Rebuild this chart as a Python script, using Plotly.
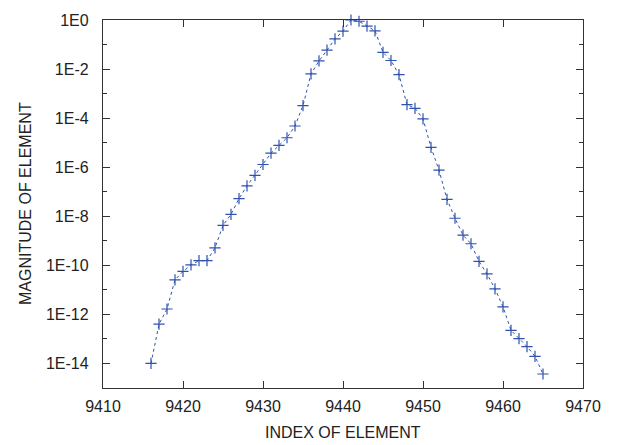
import plotly.graph_objects as go

index = list(range(9416, 9466))
log_mag = [
    -14.0, -12.4, -11.78, -10.59, -10.25, -9.98, -9.81, -9.81, -9.29, -8.37,
    -7.92, -7.28, -6.76, -6.33, -5.89, -5.43, -5.11, -4.80, -4.32, -3.49,
    -2.20, -1.67, -1.23, -0.77, -0.45, 0.0, -0.05, -0.25, -0.44, -1.32,
    -1.65, -2.23, -3.45, -3.60, -4.03, -5.19, -6.12, -7.31, -8.08, -8.77,
    -9.12, -9.84, -10.35, -10.96, -11.69, -12.65, -12.99, -13.31, -13.71, -14.43,
]
magnitude = [10 ** v for v in log_mag]

x_ticks = [9410, 9420, 9430, 9440, 9450, 9460, 9470]
y_major_exp = [0, -2, -4, -6, -8, -10, -12, -14]
y_minor_exp = [-1, -3, -5, -7, -9, -11, -13, -15]
y_tick_text = ["1E%d" % e for e in y_major_exp]

blue = "#2f52b0"
axcol = "#333333"
font = dict(family="Liberation Sans, Arial, sans-serif", size=16, color="#222222")

fig = go.Figure()
fig.add_trace(go.Scatter(
    x=index, y=magnitude, mode="lines+markers",
    line=dict(color=blue, width=1, dash="dot"),
    marker=dict(symbol="cross-thin", size=8, line=dict(color=blue, width=1.2)),
    cliponaxis=False, showlegend=False,
))

fig.update_layout(
    width=619, height=445,
    margin=dict(l=103, r=36, t=13, b=57),
    paper_bgcolor="white", plot_bgcolor="white",
    font=font,
)
fig.update_xaxes(
    range=[9410, 9470], tickmode="array", tickvals=x_ticks,
    ticks="inside", ticklen=7, tickwidth=1.3, tickcolor=axcol,
    showline=True, linecolor=axcol, linewidth=1.3, mirror="ticks",
    showgrid=False, zeroline=False, ticklabelstandoff=4,
)
fig.update_yaxes(
    type="log", range=[-15, 0], tickmode="array",
    tickvals=[10 ** e for e in y_major_exp], ticktext=y_tick_text,
    ticks="inside", ticklen=7, tickwidth=1.3, tickcolor=axcol,
    minor=dict(tickmode="array", tickvals=[10 ** e for e in y_minor_exp],
               ticks="inside", ticklen=4, tickwidth=1.3, tickcolor=axcol),
    showline=True, linecolor=axcol, linewidth=1.3, mirror="ticks",
    showgrid=False, zeroline=False, ticklabelstandoff=10,
)
fig.add_annotation(text="INDEX OF ELEMENT", xref="paper", yref="paper",
                   x=0.5, y=0, yshift=-44, showarrow=False, font=font,
                   xanchor="center", yanchor="middle")
fig.add_annotation(text="MAGNITUDE OF ELEMENT", xref="paper", yref="paper",
                   x=0, xshift=-78, y=0.5, textangle=-90, showarrow=False,
                   font=font, xanchor="center", yanchor="middle")

fig.write_html("out.html")
